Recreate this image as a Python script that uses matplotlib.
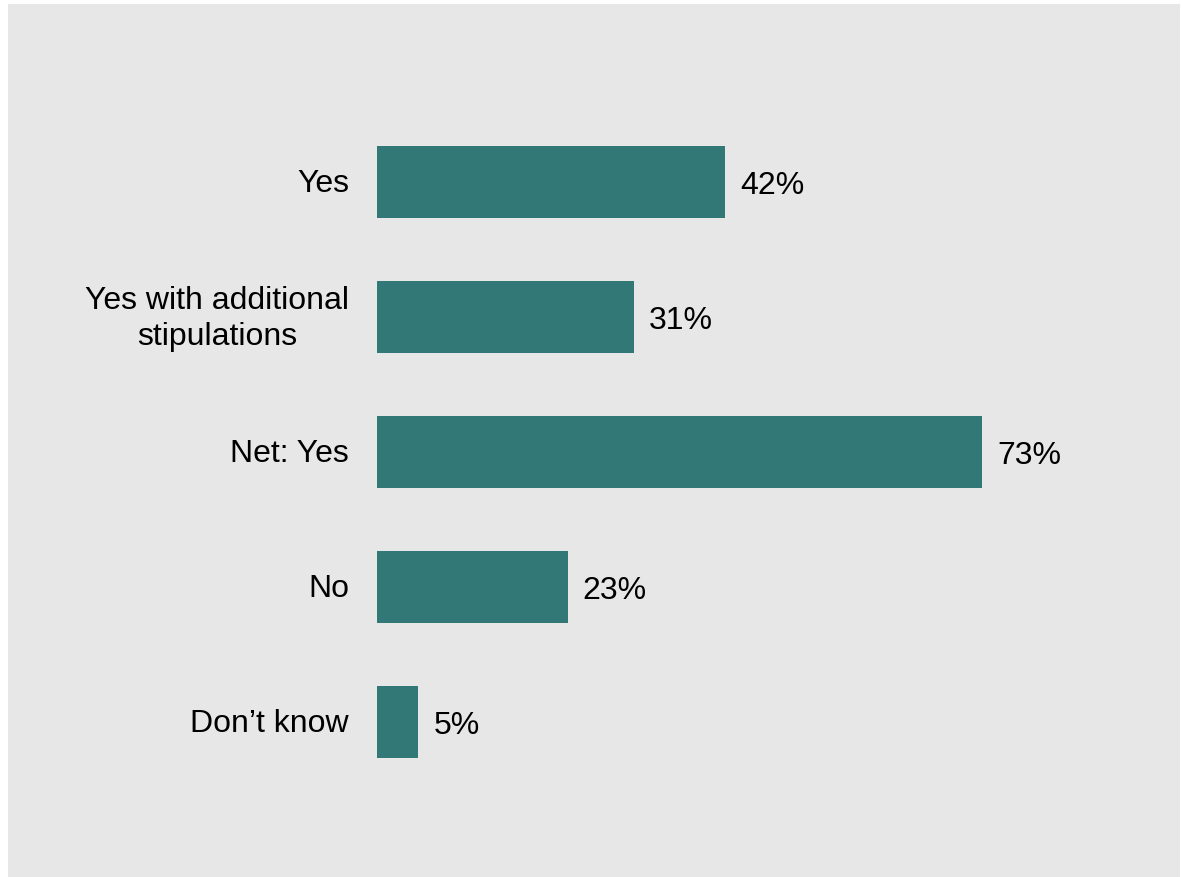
import matplotlib.pyplot as plt
from matplotlib.patches import Rectangle

plt.rcParams['font.family'] = ['Liberation Sans', 'DejaVu Sans']

categories = ['Yes', 'Yes with additional\nstipulations', 'Net: Yes', 'No', 'Don\u2019t know']
values = [42, 31, 73, 23, 5]

W, H = 1181, 878
fig = plt.figure(figsize=(W / 100, H / 100), dpi=100)
fig.patch.set_facecolor('white')
# grey panel behind the chart
fig.add_artist(Rectangle((8 / W, 0), 1172 / W, 873 / H, transform=fig.transFigure,
                         facecolor='#e7e7e7', edgecolor='none', zorder=0))

ax = fig.add_axes([377 / W, 1 - 790.5 / H, (80 * 8.288) / W, (790.5 - 115.5) / H])
ax.set_facecolor('none')
ypos = range(len(categories))
ax.barh(ypos, values, height=0.533, color='#327876', zorder=2)
ax.set_xlim(0, 80)
ax.set_ylim(4.5, -0.5)

for y, v in zip(ypos, values):
    ax.annotate(f'{v}%', (v, y), xytext=(15, -3), textcoords='offset pixels',
                va='center', ha='left', fontsize=23, color='black')

for y, c in zip(ypos, categories):
    ax.annotate(c, (0, y), xytext=(-28, -1), textcoords='offset pixels',
                va='center', ha='right', multialignment='center',
                linespacing=1.3, fontsize=23, color='black')

ax.set_xticks([])
ax.set_yticks([])
for s in ax.spines.values():
    s.set_visible(False)

fig.savefig('out.png', dpi=100)
